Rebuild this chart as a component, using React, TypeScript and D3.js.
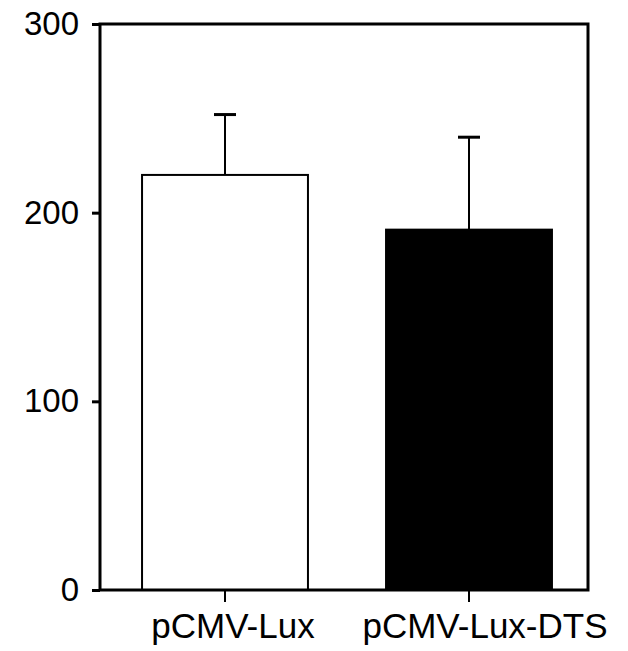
import { useEffect, useRef } from 'react';
import * as d3 from 'd3';

// values
const categories = ['pCMV-Lux', 'pCMV-Lux-DTS'];
const means = [220, 191];
const errors = [32, 49]; // upper error bar (SD)
const fills = ['#ffffff', '#000000'];
const yTicks = [0, 100, 200, 300];

export default function App() {
  const ref = useRef<SVGSVGElement | null>(null);

  useEffect(() => {
    if (!ref.current) return;
    const svg = d3.select(ref.current);
    svg.selectAll('*').remove();

    const left = 100;
    const right = 588;
    const top = 24;
    const bottom = 590;
    const font = '"Liberation Sans", Arial, Helvetica, sans-serif';

    const data = categories.map((c, i) => ({ label: c, value: means[i], err: errors[i], fill: fills[i] }));

    // bars sit slightly right of the frame's centre in the original
    const x = d3.scaleBand().domain(categories).range([left + 3, right + 3]).paddingInner(0.32).paddingOuter(0.16);
    const y = d3.scaleLinear().domain([0, 300]).range([bottom, top]);

    // bars
    svg.selectAll('.bar')
      .data(data)
      .enter()
      .append('rect')
      .attr('class', 'bar')
      .attr('x', d => x(d.label)!)
      .attr('y', d => y(d.value))
      .attr('width', x.bandwidth())
      .attr('height', d => y(0) - y(d.value))
      .attr('fill', d => d.fill)
      .attr('stroke', '#000')
      .attr('stroke-width', 2);

    // error bars (upper only)
    const err = svg.selectAll('.err').data(data).enter().append('g').attr('class', 'err');
    err.append('line')
      .attr('x1', d => x(d.label)! + x.bandwidth() / 2)
      .attr('x2', d => x(d.label)! + x.bandwidth() / 2)
      .attr('y1', d => y(d.value))
      .attr('y2', d => y(d.value + d.err))
      .attr('stroke', '#000')
      .attr('stroke-width', 2);
    err.append('line')
      .attr('x1', d => x(d.label)! + x.bandwidth() / 2 - 11)
      .attr('x2', d => x(d.label)! + x.bandwidth() / 2 + 11)
      .attr('y1', d => y(d.value + d.err))
      .attr('y2', d => y(d.value + d.err))
      .attr('stroke', '#000')
      .attr('stroke-width', 3);

    // frame
    svg.append('rect')
      .attr('x', left)
      .attr('y', top)
      .attr('width', right - left)
      .attr('height', bottom - top)
      .attr('fill', 'none')
      .attr('stroke', '#000')
      .attr('stroke-width', 3);

    // y axis
    const yAxis = svg.append('g')
      .attr('transform', `translate(${left},0)`)
      .call(d3.axisLeft(y).tickValues(yTicks).tickSize(8).tickPadding(13).tickFormat(d3.format('d')));
    yAxis.select('.domain').remove();
    yAxis.selectAll('line').attr('stroke', '#000').attr('stroke-width', 3);
    yAxis.selectAll('text')
      .attr('fill', '#000')
      .style('font-family', font)
      .style('font-size', '33px');

    // x axis
    const xAxis = svg.append('g')
      .attr('transform', `translate(0,${bottom})`)
      .call(d3.axisBottom(x).tickSize(12).tickPadding(0));
    xAxis.select('.domain').remove();
    xAxis.selectAll('line').attr('stroke', '#000').attr('stroke-width', 2);
    xAxis.selectAll('text')
      .attr('fill', '#000')
      .attr('y', 48)
      .attr('dy', 0)
      .attr('dx', (_d, i) => (i === 0 ? 8 : 16))
      .style('font-family', font)
      .style('font-size', '35px');
  }, []);

  return (
    <svg
      ref={ref}
      width={628}
      height={651}
      style={{ position: 'absolute', left: 0, top: 0, background: '#fff' }}
    />
  );
}
